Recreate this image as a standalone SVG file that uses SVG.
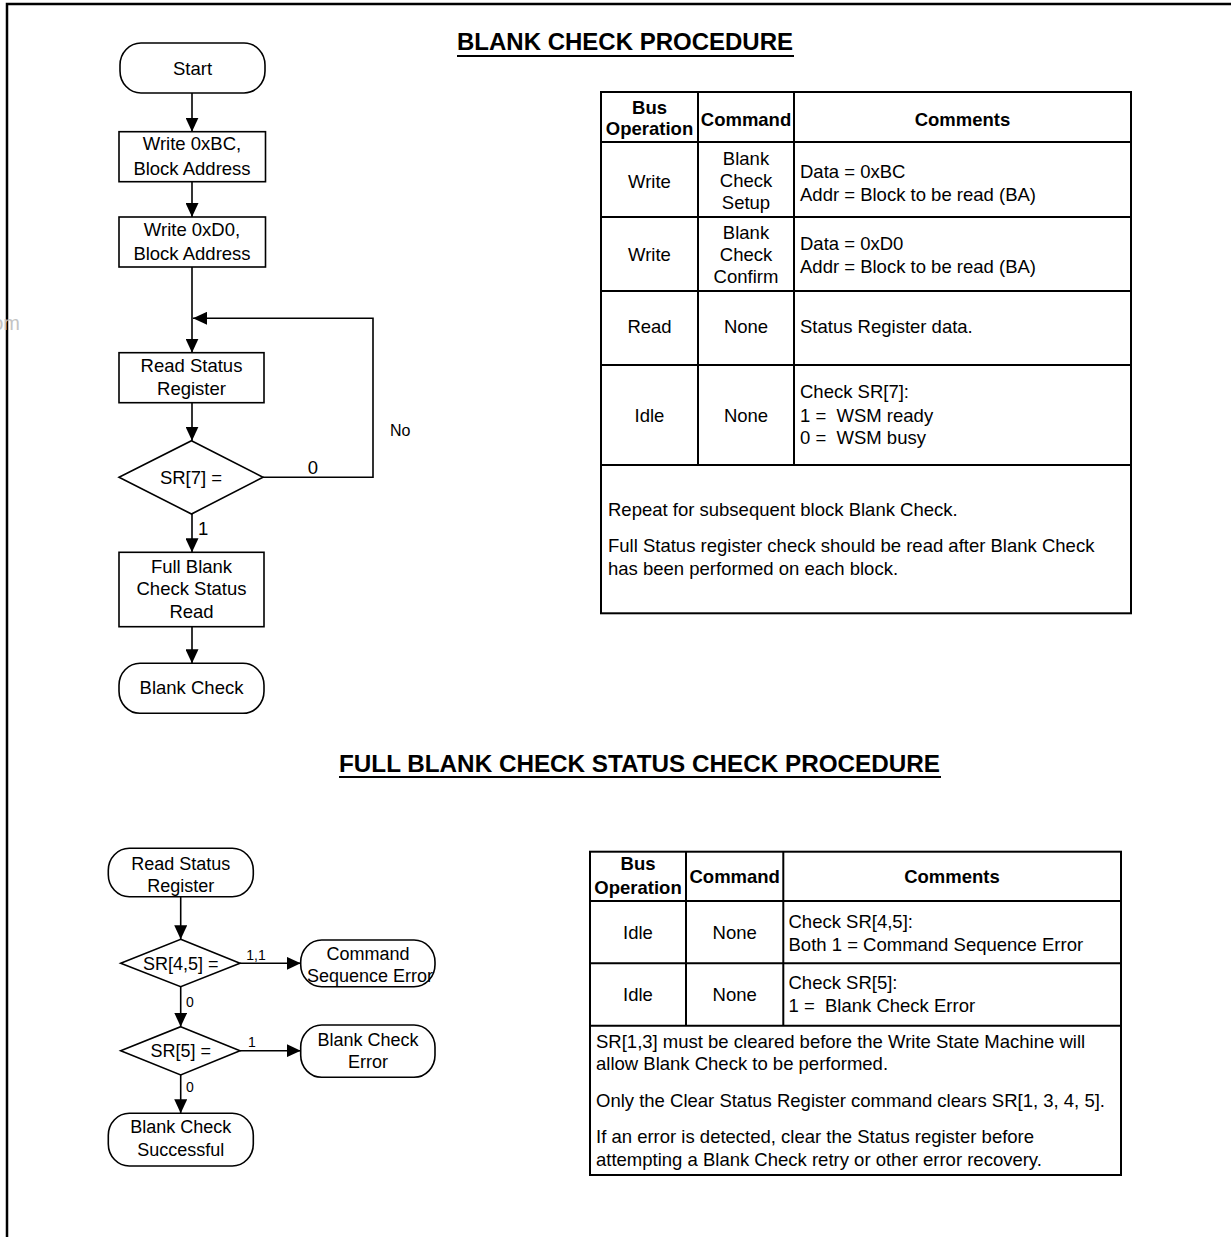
<svg xmlns="http://www.w3.org/2000/svg" width="1231" height="1237" viewBox="0 0 1231 1237">
<defs>
<style>
.t{font-family:"Liberation Sans",Arial,sans-serif;font-size:18.5px;fill:#000}
.s{font-size:18px}
.sm{font-size:14px}
.c{text-anchor:middle}
.b{font-weight:bold}
.pre{white-space:pre}
.ttl{font-family:"Liberation Sans",Arial,sans-serif;font-size:23px;font-weight:bold;fill:#000}
.shape{fill:#fff;stroke:#000;stroke-width:1.6}
.conn{fill:none;stroke:#000;stroke-width:1.6}
.tbl{fill:none;stroke:#000;stroke-width:2}
.ul{stroke:#000;stroke-width:2}
</style>
<marker id="ah" markerWidth="14" markerHeight="13" refX="14" refY="6.5" orient="auto" markerUnits="userSpaceOnUse">
<path d="M0,0 L14,6.5 L0,13 z" fill="#000"/>
</marker>
</defs>
<rect width="1231" height="1237" fill="#fff"/>
<path d="M7,1237 V4 H1231" fill="none" stroke="#000" stroke-width="2.5"/>
<text x="20" y="330" text-anchor="end" style="font-family:'Liberation Sans',Arial,sans-serif;font-size:20px;fill:#c4c4c4">om</text>

<!-- Titles -->
<g id="title1">
<text class="ttl" x="457" y="50" textLength="336" lengthAdjust="spacingAndGlyphs">BLANK CHECK PROCEDURE</text>
<line class="ul" x1="457" y1="56" x2="794" y2="56"/>
</g>
<g id="title2">
<text class="ttl" x="339" y="772" textLength="601" lengthAdjust="spacingAndGlyphs">FULL BLANK CHECK STATUS CHECK PROCEDURE</text>
<line class="ul" x1="339" y1="777" x2="941" y2="777"/>
</g>

<!-- Connectors -->
<g id="connectors">
<path class="conn" d="M192,93 V131.7" marker-end="url(#ah)"/>
<path class="conn" d="M192,181.7 V217" marker-end="url(#ah)"/>
<path class="conn" d="M192,267 V352.7" marker-end="url(#ah)"/>
<path class="conn" d="M263,477.3 H373 V318.3 H193" marker-end="url(#ah)"/>
<path class="conn" d="M192,402.7 V440.7" marker-end="url(#ah)"/>
<path class="conn" d="M192,514 V552.3" marker-end="url(#ah)"/>
<path class="conn" d="M192,626.7 V663.3" marker-end="url(#ah)"/>
<text class="t" x="313" y="474" text-anchor="middle">0</text>
<text class="t" x="390" y="436" style="font-size:16px">No</text>
<text class="t" x="198" y="535">1</text>

<path class="conn" d="M180.7,896.7 V939.3" marker-end="url(#ah)"/>
<path class="conn" d="M240,963.3 H300.7" marker-end="url(#ah)"/>
<path class="conn" d="M180.7,986.7 V1026.7" marker-end="url(#ah)"/>
<path class="conn" d="M240,1050.7 H300.7" marker-end="url(#ah)"/>
<path class="conn" d="M180.7,1075 V1113.3" marker-end="url(#ah)"/>
<text class="t sm c" x="256" y="960">1,1</text>
<text class="t sm" x="186" y="1007">0</text>
<text class="t sm c" x="252" y="1047">1</text>
<text class="t sm" x="186" y="1092">0</text>
</g>

<!-- Top flowchart nodes -->
<g id="start">
<rect class="shape" x="120" y="43" width="145" height="50" rx="21" ry="22"/>
<text class="t c" x="192.5" y="74.5">Start</text>
</g>
<g id="write-bc">
<rect class="shape" x="119" y="131.7" width="146.5" height="50"/>
<text class="t c" x="192" y="150">Write 0xBC,</text>
<text class="t c" x="192" y="175">Block Address</text>
</g>
<g id="write-d0">
<rect class="shape" x="119" y="217" width="146.5" height="50"/>
<text class="t c" x="192" y="236">Write 0xD0,</text>
<text class="t c" x="192" y="260">Block Address</text>
</g>
<g id="read-status">
<rect class="shape" x="119" y="352.7" width="145" height="50"/>
<text class="t c" x="191.5" y="371.7">Read Status</text>
<text class="t c" x="191.5" y="395">Register</text>
</g>
<g id="sr7">
<polygon class="shape" points="191.5,440.7 263,477.3 191.5,514 119,477.3"/>
<text class="t c" x="191" y="484">SR[7] =</text>
</g>
<g id="full-read">
<rect class="shape" x="119" y="552.3" width="145" height="74.4"/>
<text class="t c" x="191.5" y="572.7">Full Blank</text>
<text class="t c" x="191.5" y="595">Check Status</text>
<text class="t c" x="191.5" y="618.3">Read</text>
</g>
<g id="blank-check-end">
<rect class="shape" x="119" y="663.3" width="145" height="50" rx="21" ry="22"/>
<text class="t c" x="191.5" y="694">Blank Check</text>
</g>

<!-- Top table -->
<g id="table1">
<rect class="tbl" x="601" y="92" width="530" height="521.3"/>
<path class="tbl" d="M601,142 H1131 M601,217 H1131 M601,291 H1131 M601,365 H1131 M601,465 H1131 M698,92 V465 M794,92 V465"/>
<text class="t b c" x="649.5" y="113.5">Bus</text>
<text class="t b c" x="649.5" y="135">Operation</text>
<text class="t b c" x="746" y="126">Command</text>
<text class="t b c" x="962.5" y="126">Comments</text>

<text class="t c" x="649.5" y="188">Write</text>
<text class="t c" x="746" y="164.5">Blank</text>
<text class="t c" x="746" y="186.5">Check</text>
<text class="t c" x="746" y="208.5">Setup</text>
<text class="t" x="800" y="178">Data = 0xBC</text>
<text class="t" x="800" y="200.5">Addr = Block to be read (BA)</text>

<text class="t c" x="649.5" y="261">Write</text>
<text class="t c" x="746" y="238.5">Blank</text>
<text class="t c" x="746" y="260.5">Check</text>
<text class="t c" x="746" y="282.5">Confirm</text>
<text class="t" x="800" y="249.5">Data = 0xD0</text>
<text class="t" x="800" y="272.5">Addr = Block to be read (BA)</text>

<text class="t c" x="649.5" y="333">Read</text>
<text class="t c" x="746" y="333">None</text>
<text class="t" x="800" y="333">Status Register data.</text>

<text class="t c" x="649.5" y="421.5">Idle</text>
<text class="t c" x="746" y="421.5">None</text>
<text class="t" x="800" y="398">Check SR[7]:</text>
<text class="t pre" x="800" y="421.5">1 =  WSM ready</text>
<text class="t pre" x="800" y="444">0 =  WSM busy</text>

<text class="t" x="608" y="516">Repeat for subsequent block Blank Check.</text>
<text class="t" x="608" y="552">Full Status register check should be read after Blank Check</text>
<text class="t" x="608" y="575">has been performed on each block.</text>
</g>

<!-- Bottom flowchart nodes -->
<g id="read-status-2">
<rect class="shape" x="108.3" y="848.3" width="145" height="48.4" rx="21" ry="22"/>
<text class="t s c" x="180.8" y="870">Read Status</text>
<text class="t s c" x="180.8" y="891.5">Register</text>
</g>
<g id="sr45">
<polygon class="shape" points="180.7,939.3 240,963.3 180.7,986.7 120.7,963.3"/>
<text class="t s c" x="180.8" y="969.5">SR[4,5] =</text>
</g>
<g id="cmd-seq-error">
<rect class="shape" x="300.7" y="940" width="134.3" height="46.7" rx="21" ry="22"/>
<text class="t s c" x="368" y="960">Command</text>
<text class="t s c" x="370" y="981.5">Sequence Error</text>
</g>
<g id="sr5">
<polygon class="shape" points="180.7,1026.7 240,1050.7 180.7,1075 120.7,1050.7"/>
<text class="t s c" x="180.8" y="1057">SR[5] =</text>
</g>
<g id="blank-check-error">
<rect class="shape" x="300.7" y="1025" width="134.3" height="52.3" rx="21" ry="22"/>
<text class="t s c" x="368" y="1046">Blank Check</text>
<text class="t s c" x="368" y="1068">Error</text>
</g>
<g id="blank-check-success">
<rect class="shape" x="108.3" y="1113.3" width="145" height="52.7" rx="21" ry="22"/>
<text class="t s c" x="180.8" y="1133">Blank Check</text>
<text class="t s c" x="180.8" y="1156">Successful</text>
</g>

<!-- Bottom table -->
<g id="table2">
<rect class="tbl" x="590" y="851.7" width="531" height="323.3"/>
<path class="tbl" d="M590,901 H1121 M590,963.3 H1121 M590,1025.7 H1121 M686,851.7 V1025.7 M783.3,851.7 V1025.7"/>
<text class="t b c" x="638" y="870">Bus</text>
<text class="t b c" x="638" y="894">Operation</text>
<text class="t b c" x="734.7" y="883">Command</text>
<text class="t b c" x="952" y="883">Comments</text>

<text class="t c" x="638" y="939">Idle</text>
<text class="t c" x="734.7" y="939">None</text>
<text class="t" x="788.5" y="927.5">Check SR[4,5]:</text>
<text class="t" x="788.5" y="950.5">Both 1 = Command Sequence Error</text>

<text class="t c" x="638" y="1001">Idle</text>
<text class="t c" x="734.7" y="1001">None</text>
<text class="t" x="788.5" y="989">Check SR[5]:</text>
<text class="t pre" x="788.5" y="1012">1 =  Blank Check Error</text>

<text class="t" x="596" y="1047.5">SR[1,3] must be cleared before the Write State Machine will</text>
<text class="t" x="596" y="1070">allow Blank Check to be performed.</text>
<text class="t" x="596" y="1107">Only the Clear Status Register command clears SR[1, 3, 4, 5].</text>
<text class="t" x="596" y="1143">If an error is detected, clear the Status register before</text>
<text class="t" x="596" y="1165.5">attempting a Blank Check retry or other error recovery.</text>
</g>
</svg>
